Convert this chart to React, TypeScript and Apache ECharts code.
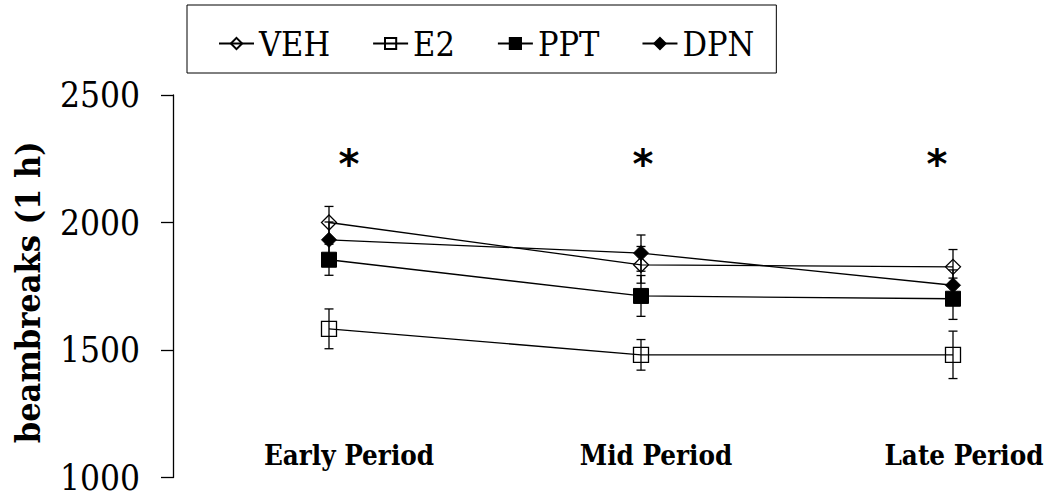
import React, { useEffect, useRef } from "react";
import * as echarts from "echarts";

const categories = ["Early Period", "Mid Period", "Late Period"];
const seriesNames = ["VEH", "E2", "PPT", "DPN"];
const vehMean = [2000, 1834, 1826];
const vehErr = [63, 72, 68];
const e2Mean = [1583, 1481, 1481];
const e2Err = [78, 60, 93];
const pptMean = [1854, 1712, 1701];
const pptErr = [61, 80, 81];
const dpnMean = [1932, 1880, 1754];
const dpnErr = [70, 71, 60];
const yMin = 1000;
const yMax = 2500;
const yStep = 500;
const sigValue = 2246;
const sigMark = "*";

const FONT = "DejaVu Serif Condensed";
const STAR_FONT = "DejaVu Sans";

export default function App() {
  const ref = useRef<HTMLDivElement>(null);
  useEffect(() => {
    if (!ref.current) return;
    const chart = echarts.init(ref.current, null, { renderer: "svg" });

    const errData = (mean: number[], err: number[]) =>
      mean.map((m, i) => [i, m - err[i], m + err[i]]);

    const errSeries = (name: string, mean: number[], err: number[]) => ({
      name: name + " SEM",
      type: "custom",
      z: 1,
      silent: true,
      data: errData(mean, err),
      renderItem: (params: any, api: any) => {
        const x = api.value(0);
        const lo = api.coord([x, api.value(1)]);
        const hi = api.coord([x, api.value(2)]);
        const hw = 4.5;
        const st = { stroke: "#000", lineWidth: 1.3 };
        return {
          type: "group",
          children: [
            { type: "line", shape: { x1: lo[0], y1: lo[1], x2: hi[0], y2: hi[1] }, style: st },
            { type: "line", shape: { x1: lo[0] - hw, y1: lo[1], x2: lo[0] + hw, y2: lo[1] }, style: st },
            { type: "line", shape: { x1: hi[0] - hw, y1: hi[1], x2: hi[0] + hw, y2: hi[1] }, style: st },
          ],
        };
      },
    });

    const lineSeries = (name: string, mean: number[], symbol: string, filled: boolean, size: number, extra: any = {}) => ({
      name,
      type: "line",
      z: 2,
      data: mean,
      symbol,
      symbolSize: size,
      showAllSymbol: true,
      lineStyle: { color: "#000", width: 1.3 },
      itemStyle: filled
        ? { color: "#000", borderColor: "#000", borderWidth: 1 }
        : { color: "rgba(0,0,0,0)", borderColor: "#000", borderWidth: 1.3 },
      ...extra,
    });

    const starOffsets = [20, 2, -16];
    const labelPad = [40, 30, 22];
    const richLabel = (i: number) => ({
      fontFamily: FONT,
      fontWeight: "bold",
      fontSize: 27.5,
      color: "#000",
      padding: [0, 0, 0, labelPad[i]],
    });

    chart.setOption({
      animation: false,
      backgroundColor: "#fff",
      textStyle: { fontFamily: FONT, color: "#000" },
      legend: {
        data: seriesNames,
        left: 187,
        top: 5,
        orient: "horizontal",
        itemWidth: 35,
        itemHeight: 14,
        itemGap: 42,
        borderColor: "#000",
        borderWidth: 1,
        padding: [21, 22, 12, 31],
        textStyle: { fontFamily: FONT, fontSize: 34, color: "#000", lineHeight: 35 },
        selectedMode: false,
      },
      grid: { left: 173, top: 95, width: 936, bottom: 21.5, outerBoundsMode: "none", containLabel: false },
      xAxis: {
        type: "category",
        data: categories,
        boundaryGap: true,
        axisLine: { show: false, onZero: false },
        axisTick: { show: false },
        splitLine: { show: false },
        axisLabel: {
          margin: -22.5,
          verticalAlign: "middle",
          formatter: (v: string) => {
            const i = categories.indexOf(v);
            return "{c" + i + "|" + v + "}";
          },
          rich: { c0: richLabel(0), c1: richLabel(1), c2: richLabel(2) },
        },
      },
      yAxis: {
        type: "value",
        min: yMin,
        max: yMax,
        interval: yStep,
        name: "beambreaks (1 h)",
        nameLocation: "middle",
        nameGap: 128,
        nameRotate: 90,
        nameTextStyle: { fontFamily: FONT, fontWeight: "bold", fontSize: 34, color: "#000", padding: [0, 12, 0, 0] },
        axisLine: { show: true, onZero: false, lineStyle: { color: "#000", width: 1.3 } },
        axisTick: { show: true, inside: false, length: 12, lineStyle: { color: "#000", width: 1.3 } },
        axisLabel: { margin: 33, fontFamily: FONT, fontSize: 35, color: "#000", formatter: (v: number) => String(v) },
        splitLine: { show: false },
      },
      series: [
        errSeries("VEH", vehMean, vehErr),
        errSeries("E2", e2Mean, e2Err),
        errSeries("PPT", pptMean, pptErr),
        errSeries("DPN", dpnMean, dpnErr),
        lineSeries("VEH", vehMean, "diamond", false, 15, {
          markPoint: {
            symbol: "circle",
            symbolSize: 1,
            silent: true,
            itemStyle: { color: "rgba(0,0,0,0)" },
            data: categories.map((c, i) => ({
              coord: [i, sigValue],
              value: sigMark,
              label: {
                show: true,
                formatter: sigMark,
                position: "inside",
                offset: [starOffsets[i], 4],
                fontFamily: STAR_FONT,
                fontWeight: "bold",
                fontSize: 40,
                color: "#000",
              },
            })),
          },
        }),
        lineSeries("E2", e2Mean, "rect", false, 15),
        lineSeries("PPT", pptMean, "rect", true, 15),
        lineSeries("DPN", dpnMean, "diamond", true, 15),
      ],
    });
    return () => chart.dispose();
  }, []);
  return <div ref={ref} style={{ position: "absolute", left: 0, top: 0, width: 1049, height: 499 }} />;
}
